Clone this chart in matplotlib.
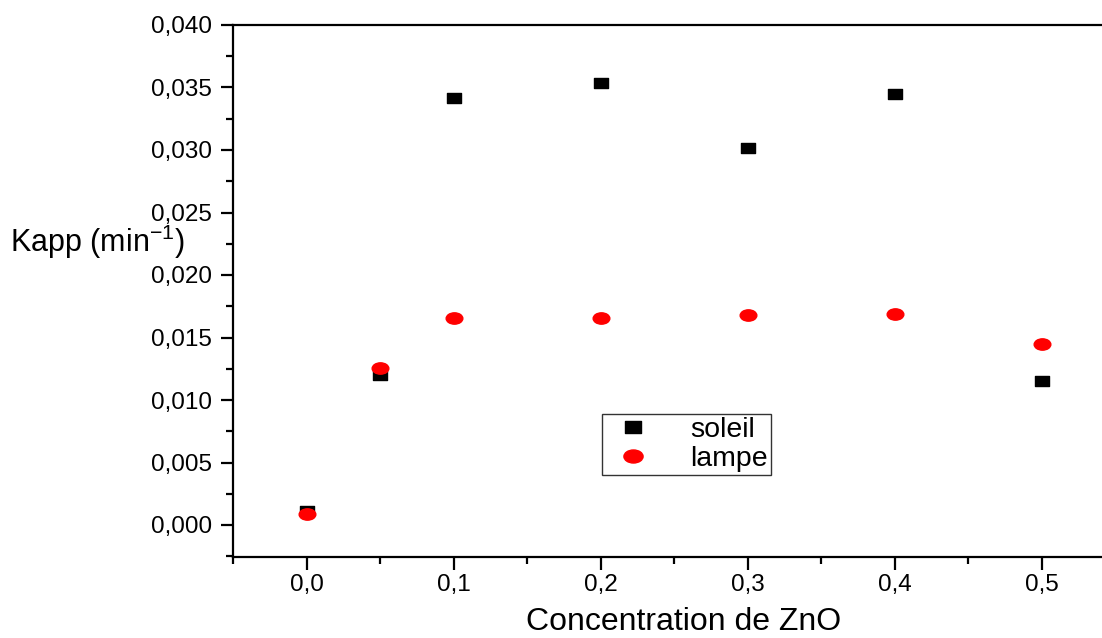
import matplotlib
matplotlib.use("Agg")
import matplotlib.pyplot as plt
from matplotlib.path import Path
from matplotlib.transforms import Affine2D
from matplotlib.ticker import MultipleLocator, FuncFormatter

plt.rcParams['font.family'] = ['Liberation Sans', 'DejaVu Sans']
plt.rcParams['mathtext.fontset'] = 'custom'
plt.rcParams['mathtext.rm'] = 'Liberation Sans'

conc = [0.0, 0.05, 0.1, 0.2, 0.3, 0.4, 0.5]
soleil = [0.0011, 0.0120, 0.0342, 0.0354, 0.0302, 0.0345, 0.0115]
lampe = [0.0009, 0.0126, 0.0166, 0.0166, 0.0168, 0.0169, 0.0145]

# the original picture is a bit squashed vertically: flat square / ellipse markers
flat_square = Path.unit_rectangle().transformed(Affine2D().translate(-0.5, -0.5).scale(1.0, 0.7))
flat_circle = Path.unit_circle().transformed(Affine2D().scale(1.0, 0.68))

fig = plt.figure(figsize=(11.02, 6.38), dpi=100)
ax = fig.add_axes([233 / 1102, 81 / 638, 960 / 1102, 532 / 638])

ax.plot(conc, soleil, linestyle='none', marker=flat_square, color='black', markersize=10.5, label='soleil')
ax.plot(conc, lampe, linestyle='none', marker=flat_circle, color='red', markersize=12, label='lampe')

# 0.1 unit = 147 px
ax.set_xlim(-0.05, -0.05 + 960 / 1470)
ax.set_ylim(-0.00256, 0.040)
ax.xaxis.set_major_locator(MultipleLocator(0.1))
ax.xaxis.set_minor_locator(MultipleLocator(0.05))
ax.yaxis.set_major_locator(MultipleLocator(0.005))
ax.yaxis.set_minor_locator(MultipleLocator(0.0025))
ax.xaxis.set_major_formatter(FuncFormatter(lambda v, p: f"{v:.1f}".replace('.', ',') if v < 0.55 else ''))
ax.yaxis.set_major_formatter(FuncFormatter(lambda v, p: f"{v:.3f}".replace('.', ',')))

for s in ax.spines.values():
    s.set_linewidth(1.6)
ax.tick_params(which='major', direction='out', length=9, width=1.6, labelsize=17.5)
ax.tick_params(which='minor', direction='out', length=5, width=1.6)
ax.tick_params(axis='x', pad=3)
ax.tick_params(axis='y', pad=6)

fig.text(10 / 1102, 1 - 252 / 638, 'Kapp (min$^{\\mathregular{-1}}$)', fontsize=22, va='baseline', ha='left')
fig.text(684 / 1102, 1 - 622 / 638, 'Concentration de ZnO', fontsize=23, va='center', ha='center')

leg = ax.legend(loc='upper left', bbox_to_anchor=((602 - 233) / 960, (557 - 414) / 532),
                fontsize=20.5, frameon=True, fancybox=False, edgecolor='black',
                borderpad=0.1, handletextpad=1.0, labelspacing=0.12, handlelength=2.0,
                borderaxespad=0, markerscale=1.15)
leg.get_frame().set_linewidth(1.0)

fig.savefig('out.png', dpi=100)
